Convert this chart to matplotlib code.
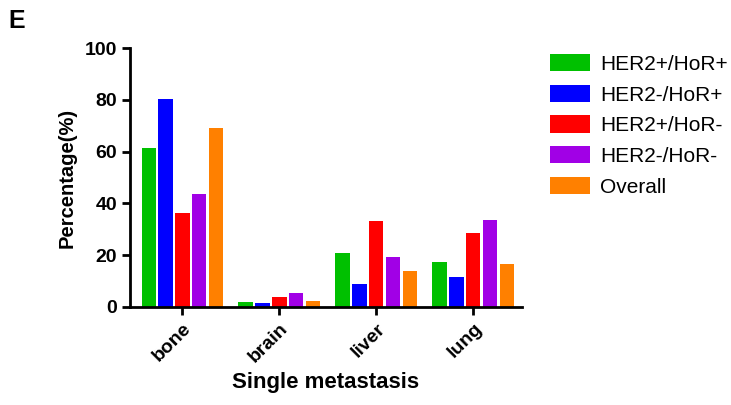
import numpy as np
import matplotlib
matplotlib.use('Agg')
from matplotlib import pyplot as plt

plt.rcParams['font.family'] = ['Liberation Sans', 'DejaVu Sans']

sites = ['bone', 'brain', 'liver', 'lung']
groups = ['HER2+/HoR+', 'HER2-/HoR+', 'HER2+/HoR-', 'HER2-/HoR-', 'Overall']
her2p_horp = [61.5, 2.0, 20.8, 17.4]
her2n_horp = [80.2, 1.5, 8.8, 11.5]
her2p_horn = [36.3, 3.8, 33.2, 28.5]
her2n_horn = [43.6, 5.5, 19.3, 33.6]
overall = [69.2, 2.4, 13.9, 16.6]
colors = ['#00C000', '#0000FF', '#FF0000', '#A100E6', '#FF8000']

series = [her2p_horp, her2n_horp, her2p_horn, her2n_horn, overall]

fig = plt.figure(figsize=(7.31, 4.05), dpi=100)
ax = fig.add_axes([0.178, 0.242, 0.536, 0.639])

x = np.arange(len(sites))
step = 0.175
w = 0.145
for i, (vals, name, c) in enumerate(zip(series, groups, colors)):
    ax.bar(x + (i - 2) * step, vals, w, color=c, label=name)

ax.set_xlim(-0.54, 3.5)
ax.set_ylim(0, 100)
ax.set_yticks([0, 20, 40, 60, 80, 100])
ax.set_xticks(x)
ax.set_xticklabels(sites, rotation=45, ha='right', rotation_mode='anchor')
for s in ['top', 'right']:
    ax.spines[s].set_visible(False)
for s in ['left', 'bottom']:
    ax.spines[s].set_linewidth(2)
ax.tick_params(width=2, length=6, labelsize=14)
for lab in ax.get_xticklabels() + ax.get_yticklabels():
    lab.set_fontweight('bold')
ax.set_ylabel('Percentage(%)', fontsize=14.5, fontweight='bold', labelpad=6)
ax.set_xlabel('Single metastasis', fontsize=16, fontweight='bold')

# legend sits to the right of the axes, no frame
ax.legend(loc='upper left', bbox_to_anchor=(1.025, 1.05), frameon=False,
          fontsize=15, handlelength=1.9, handleheight=0.9, handletextpad=0.5,
          labelspacing=0.52)

fig.text(0.012, 0.93, 'E', fontsize=18, fontweight='bold')

fig.savefig('out.png', dpi=100)
